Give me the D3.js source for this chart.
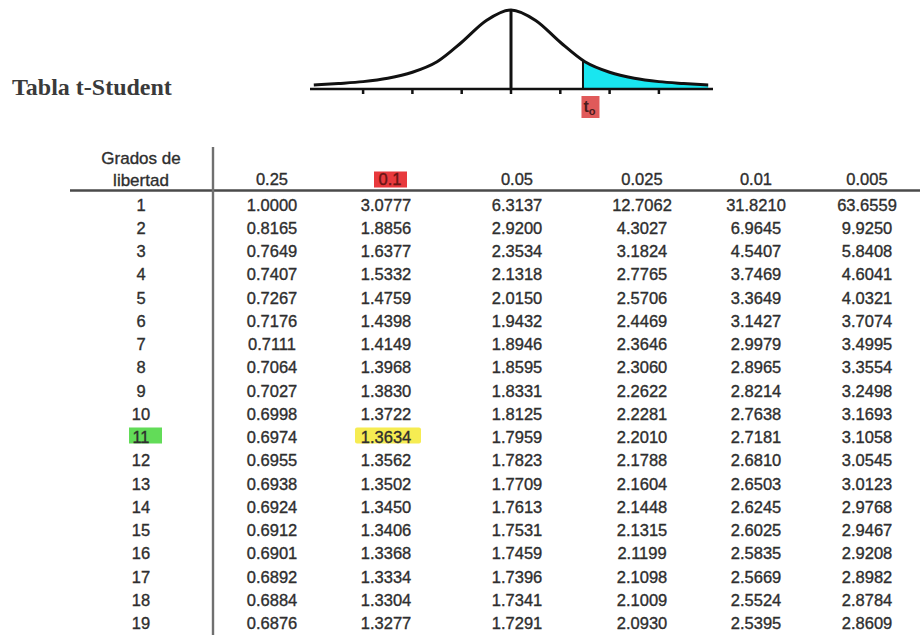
<!DOCTYPE html>
<html>
<head>
<meta charset="utf-8">
<script src="https://cdn.jsdelivr.net/npm/d3@7"></script>
<style>
  body { margin: 0; background: #fff; }
  svg { display: block; }
</style>
</head>
<body>
<svg id="chart" width="920" height="635"></svg>
<script>
// column headers (alpha) and degrees of freedom
var alphas = ["0.25", "0.1", "0.05", "0.025", "0.01", "0.005"];
var gradosLibertad = [1, 2, 3, 4, 5, 6, 7, 8, 9, 10, 11, 12, 13, 14, 15, 16, 17, 18, 19];

// t values for each alpha
var col025 = ["1.0000", "0.8165", "0.7649", "0.7407", "0.7267", "0.7176", "0.7111", "0.7064", "0.7027", "0.6998", "0.6974", "0.6955", "0.6938", "0.6924", "0.6912", "0.6901", "0.6892", "0.6884", "0.6876"];
var col010 = ["3.0777", "1.8856", "1.6377", "1.5332", "1.4759", "1.4398", "1.4149", "1.3968", "1.3830", "1.3722", "1.3634", "1.3562", "1.3502", "1.3450", "1.3406", "1.3368", "1.3334", "1.3304", "1.3277"];
var col005 = ["6.3137", "2.9200", "2.3534", "2.1318", "2.0150", "1.9432", "1.8946", "1.8595", "1.8331", "1.8125", "1.7959", "1.7823", "1.7709", "1.7613", "1.7531", "1.7459", "1.7396", "1.7341", "1.7291"];
var col0025 = ["12.7062", "4.3027", "3.1824", "2.7765", "2.5706", "2.4469", "2.3646", "2.3060", "2.2622", "2.2281", "2.2010", "2.1788", "2.1604", "2.1448", "2.1315", "2.1199", "2.1098", "2.1009", "2.0930"];
var col001 = ["31.8210", "6.9645", "4.5407", "3.7469", "3.3649", "3.1427", "2.9979", "2.8965", "2.8214", "2.7638", "2.7181", "2.6810", "2.6503", "2.6245", "2.6025", "2.5835", "2.5669", "2.5524", "2.5395"];
var col0005 = ["63.6559", "9.9250", "5.8408", "4.6041", "4.0321", "3.7074", "3.4995", "3.3554", "3.2498", "3.1693", "3.1058", "3.0545", "3.0123", "2.9768", "2.9467", "2.9208", "2.8982", "2.8784", "2.8609"];

// highlighted cells
var selAlpha = "0.1";
var selDf = 11;

// bell curve (relative height)
var curveT = [-4, -3.5, -3, -2.5, -2, -1.5, -1, -0.5, 0, 0.5, 1, 1.5, 2, 2.5, 3, 3.5, 4];
var curveH = [0.0, 0.02, 0.045, 0.09, 0.17, 0.31, 0.57, 0.86, 1.0, 0.86, 0.57, 0.31, 0.17, 0.09, 0.045, 0.02, 0.0];
var axisTicks = [-3, -2, -1, 0, 1, 2, 3];
var t0 = 1.46;

var svg = d3.select("#chart");
var ink = "#2e2e2e";

// Title
svg.append("text")
    .attr("x", 12)
    .attr("y", 95)
    .style("font-family", "'Liberation Serif', 'Times New Roman', serif")
    .style("font-weight", "bold")
    .style("font-size", "24px")
    .attr("fill", "#3a3a3a")
    .text("Tabla t-Student");

// ---- distribution sketch ----
var x = d3.scaleLinear().domain([-4, 4]).range([313.8, 708.2]);
var y = d3.scaleLinear().domain([0, 1]).range([85, 10]);
var axisY = 89;

var pts = curveT.map((t, i) => [t, curveH[i]]);

var area = d3.area()
    .x(d => x(d[0]))
    .y0(axisY)
    .y1(d => y(d[1]))
    .curve(d3.curveMonotoneX);

var line = d3.line()
    .x(d => x(d[0]))
    .y(d => y(d[1]))
    .curve(d3.curveMonotoneX);

var defs = svg.append("defs");
defs.append("clipPath").attr("id", "tail")
    .append("rect")
    .attr("x", x(t0)).attr("y", 0)
    .attr("width", x(4) - x(t0) + 5).attr("height", axisY);
defs.append("clipPath").attr("id", "under")
    .append("path").attr("d", area(pts));

// shaded tail
svg.append("path")
    .attr("d", area(pts))
    .attr("fill", "#19e6f0")
    .attr("clip-path", "url(#tail)");

// t0 line (clipped to the area under the curve)
svg.append("line")
    .attr("x1", x(t0)).attr("x2", x(t0))
    .attr("y1", 0).attr("y2", axisY)
    .attr("stroke", "#111")
    .attr("stroke-width", 2)
    .attr("clip-path", "url(#under)");

// centre line
svg.append("line")
    .attr("x1", x(0)).attr("x2", x(0))
    .attr("y1", y(1)).attr("y2", axisY)
    .attr("stroke", "#111")
    .attr("stroke-width", 3);

// curve
svg.append("path")
    .attr("d", line(pts))
    .attr("fill", "none")
    .attr("stroke", "#111")
    .attr("stroke-width", 3);

// axis
svg.append("line")
    .attr("x1", 310).attr("x2", 713)
    .attr("y1", axisY).attr("y2", axisY)
    .attr("stroke", "#111")
    .attr("stroke-width", 2.5);

svg.selectAll(".tick")
    .data(axisTicks)
    .enter()
    .append("line")
    .attr("class", "tick")
    .attr("x1", d => x(d)).attr("x2", d => x(d))
    .attr("y1", axisY).attr("y2", axisY + 5)
    .attr("stroke", "#111")
    .attr("stroke-width", 2.5);

// t0 label
svg.append("rect")
    .attr("x", x(t0) - 1.5).attr("y", 96)
    .attr("width", 18).attr("height", 22)
    .attr("fill", "#e05a5a");
var lab = svg.append("text")
    .attr("x", x(t0) + 0.5)
    .attr("y", 112)
    .style("font-family", "'Liberation Sans', Arial, sans-serif")
    .style("font-size", "16px")
    .style("font-weight", "bold")
    .attr("fill", "#4a1c1c");
lab.append("tspan").text("t");
lab.append("tspan").attr("dy", 3).style("font-size", "11px").text("o");

// ---- table ----
var columns = [col025, col010, col005, col0025, col001, col0005];
var colKeys = ["df"].concat(alphas);
var colX = d3.scaleOrdinal().domain(colKeys).range([141, 272, 386, 517, 642, 756, 867]);
var rowY = d3.scaleLinear().domain([1, 19]).range([210.5, 629]);

var font = "'Liberation Sans', Arial, sans-serif";
var fs = "16.5px";

function cellText(sel) {
    sel.attr("text-anchor", "middle")
        .style("font-family", font)
        .style("font-size", fs)
        .attr("fill", ink)
        .attr("stroke", ink)
        .attr("stroke-width", 0.35);
}

// rules
svg.append("line")
    .attr("x1", 70).attr("x2", 920)
    .attr("y1", 190.5).attr("y2", 190.5)
    .attr("stroke", "#4a4a4a")
    .attr("stroke-width", 2.4);
svg.append("line")
    .attr("x1", 213).attr("x2", 213)
    .attr("y1", 147).attr("y2", 635)
    .attr("stroke", "#707070")
    .attr("stroke-width", 2.4);

// header
svg.append("text")
    .attr("x", colX("df")).attr("y", 164)
    .call(cellText)
    .style("font-size", "17px")
    .text("Grados de");
svg.append("text")
    .attr("x", colX("df")).attr("y", 185.5)
    .call(cellText)
    .style("font-size", "17px")
    .text("libertad");

svg.selectAll(".hdrBox")
    .data(alphas.filter(a => a == selAlpha))
    .enter()
    .append("rect")
    .attr("x", d => colX(d) - 12).attr("y", 171.5)
    .attr("width", 33).attr("height", 16)
    .attr("fill", "#e8393d");

svg.selectAll(".hdr")
    .data(alphas)
    .enter()
    .append("text")
    .attr("class", "hdr")
    .attr("x", d => colX(d) + (d == selAlpha ? 4 : 0)).attr("y", 185)
    .call(cellText)
    .attr("fill", d => d == selAlpha ? "#6a1414" : ink)
    .attr("stroke", d => d == selAlpha ? "#6a1414" : ink)
    .text(d => d);

// highlight boxes for the selected row/cell
svg.append("rect")
    .attr("x", colX("df") - 12).attr("y", rowY(selDf) - 15.5)
    .attr("width", 33).attr("height", 16)
    .attr("fill", "#62dc58");
svg.append("rect")
    .attr("x", colX(selAlpha) - 31).attr("y", rowY(selDf) - 15.5)
    .attr("width", 66).attr("height", 16)
    .attr("rx", 2)
    .attr("fill", "#f6ec52");

// df column
svg.selectAll(".df")
    .data(gradosLibertad)
    .enter()
    .append("text")
    .attr("class", "df")
    .attr("x", colX("df")).attr("y", d => rowY(d))
    .call(cellText)
    .text(d => d);

// value cells
columns.forEach(function(col, ci) {
    svg.selectAll(".c" + ci)
        .data(col)
        .enter()
        .append("text")
        .attr("class", "c" + ci)
        .attr("x", colX(alphas[ci]))
        .attr("y", (d, i) => rowY(gradosLibertad[i]))
        .call(cellText)
        .text(d => d);
});
</script>
</body>
</html>
